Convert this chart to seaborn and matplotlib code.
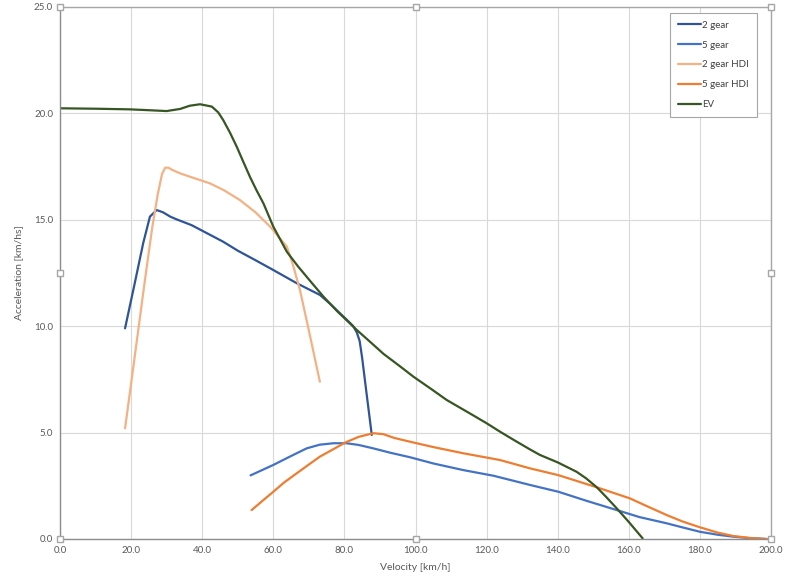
import matplotlib
matplotlib.use('Agg')
import matplotlib.pyplot as plt
import pandas as pd
import seaborn as sns

# values
gear2_x = [18.3, 21, 23.4, 25.3, 27.2, 29, 31, 32.8, 37, 41, 45.9, 50, 55, 60,
           66.6, 73.1, 76, 78.8, 81, 82.5, 83.5, 84.3, 85, 86.3, 87.7]
gear2_y = [9.9, 12.0, 13.9, 15.15, 15.46, 15.35, 15.15, 15.02, 14.75, 14.4, 13.97,
           13.55, 13.1, 12.64, 12.02, 11.47, 11.05, 10.6, 10.25, 10.0, 9.7, 9.3,
           8.5, 6.75, 4.89]

gear5_x = [53.6, 60, 65, 69.4, 73, 76.9, 80.6, 84, 88.1, 93, 98.5, 105, 113.4, 122,
           132.2, 140.2, 148, 156.6, 163, 170.6, 175, 180, 185, 189.4, 194, 198.8]
gear5_y = [2.99, 3.48, 3.9, 4.26, 4.43, 4.5, 4.5, 4.42, 4.26, 4.05, 3.84, 3.55, 3.24,
           2.97, 2.54, 2.22, 1.8, 1.36, 1.03, 0.74, 0.55, 0.34, 0.2, 0.11, 0.04, 0.0]

hdi2_x = [18.3, 20, 22, 24, 26, 27.5, 28.7, 29.6, 30.5, 31.5, 33.8, 37, 42.2, 46,
          50.6, 55, 59.1, 62, 63.8, 65.5, 67.5, 70, 73.1]
hdi2_y = [5.2, 7.3, 9.8, 12.3, 14.7, 16.2, 17.15, 17.45, 17.45, 17.35, 17.18, 17.0,
          16.71, 16.4, 15.93, 15.35, 14.68, 14.1, 13.74, 12.9, 11.7, 9.8, 7.39]

hdi5_x = [53.9, 57, 60, 63, 66.6, 70, 73.1, 77, 80.2, 84, 88.1, 90.9, 94, 98.5, 105,
          113.4, 123.8, 132.2, 140.2, 151, 160.3, 165, 170.6, 175, 180, 185, 189.4,
          194, 198.8]
hdi5_y = [1.36, 1.8, 2.22, 2.65, 3.09, 3.5, 3.87, 4.23, 4.53, 4.8, 4.97, 4.93, 4.75,
          4.57, 4.32, 4.03, 3.71, 3.32, 3.0, 2.43, 1.91, 1.55, 1.13, 0.83, 0.55, 0.3,
          0.14, 0.05, 0.0]

ev_x = [0, 10, 19.7, 25, 30, 33.8, 36.5, 39.4, 42.7, 44.5, 45.9, 47.8, 49.7, 51.5,
        53.4, 55.3, 57.2, 60, 63.8, 67, 70.5, 74.1, 78, 83.5, 87, 91, 95.6, 99.4,
        105, 108.8, 115, 120, 123.8, 128, 132.2, 135, 140, 145.3, 148, 151, 153.5,
        156.6, 160, 163.9]
ev_y = [20.24, 20.22, 20.19, 20.15, 20.11, 20.21, 20.36, 20.43, 20.32, 20.05, 19.69,
        19.1, 18.44, 17.75, 17.03, 16.38, 15.78, 14.68, 13.5, 12.8, 12.1, 11.39,
        10.7, 9.82, 9.3, 8.7, 8.12, 7.63, 6.98, 6.53, 5.93, 5.44, 5.04, 4.62, 4.21,
        3.95, 3.6, 3.16, 2.85, 2.43, 2.0, 1.44, 0.8, 0.03]

series = {
    '2 gear': (gear2_x, gear2_y),
    '5 gear': (gear5_x, gear5_y),
    '2 gear HDI': (hdi2_x, hdi2_y),
    '5 gear HDI': (hdi5_x, hdi5_y),
    'EV': (ev_x, ev_y),
}
colors = {
    '2 gear': '#2F5597',
    '5 gear': '#4472C4',
    '2 gear HDI': '#F4B183',
    '5 gear HDI': '#ED7D31',
    'EV': '#375623',
}

frames = []
for name, (xs, ys) in series.items():
    frames.append(pd.DataFrame({'velocity': xs, 'accel': ys, 'series': name}))
df = pd.concat(frames, ignore_index=True)

sns.set_style('white')
plt.rcParams['font.family'] = ['Lato', 'DejaVu Sans']

fig = plt.figure(figsize=(7.89, 5.82), dpi=100)
ax = fig.add_axes([60 / 789, 43 / 582, 711 / 789, 532 / 582])

sns.lineplot(data=df, x='velocity', y='accel', hue='series', palette=colors,
             hue_order=list(series.keys()), sort=False, estimator=None,
             linewidth=1.6, ax=ax)

ax.set_xlim(0, 200)
ax.set_ylim(0, 25)
ax.set_xticks(range(0, 201, 20))
ax.set_yticks([0, 5, 10, 15, 20, 25])
ax.set_xticklabels([f'{v:.1f}' for v in range(0, 201, 20)])
ax.set_yticklabels([f'{v:.1f}' for v in [0, 5, 10, 15, 20, 25]])
ax.tick_params(axis='both', length=0, labelsize=7, labelcolor='#595959', pad=5)
ax.grid(True, color='#d9d9d9', linewidth=0.8)
ax.set_axisbelow(True)
for side in ['top', 'right']:
    ax.spines[side].set_color('#a6a6a6')
for side in ['left', 'bottom']:
    ax.spines[side].set_color('#8c8c8c')
for sp in ax.spines.values():
    sp.set_linewidth(1.0)

ax.set_xlabel('Velocity [km/h]', fontsize=7.5, color='#595959', labelpad=6)
ax.set_ylabel('Acceleration [km/hs]', fontsize=7.5, color='#595959', labelpad=8)

# selection handles of the plot area
for hx in [0, 0.5, 1]:
    for hy in [0, 0.5, 1]:
        if hx == 0.5 and hy == 0.5:
            continue
        ax.plot(hx, hy, marker='s', ms=5, mfc='white', mec='#a6a6a6', mew=1,
                transform=ax.transAxes, clip_on=False, zorder=10)

leg = ax.legend(loc='upper right', bbox_to_anchor=(0.980, 0.989), fontsize=7,
                frameon=True, fancybox=False, framealpha=1, edgecolor='#a6a6a6',
                handlelength=2.4, handletextpad=0.1, labelspacing=1.12,
                borderpad=0.8, borderaxespad=0)
leg.get_frame().set_linewidth(0.8)
for txt in leg.get_texts():
    txt.set_color('#404040')

fig.savefig('out.png', dpi=100)
